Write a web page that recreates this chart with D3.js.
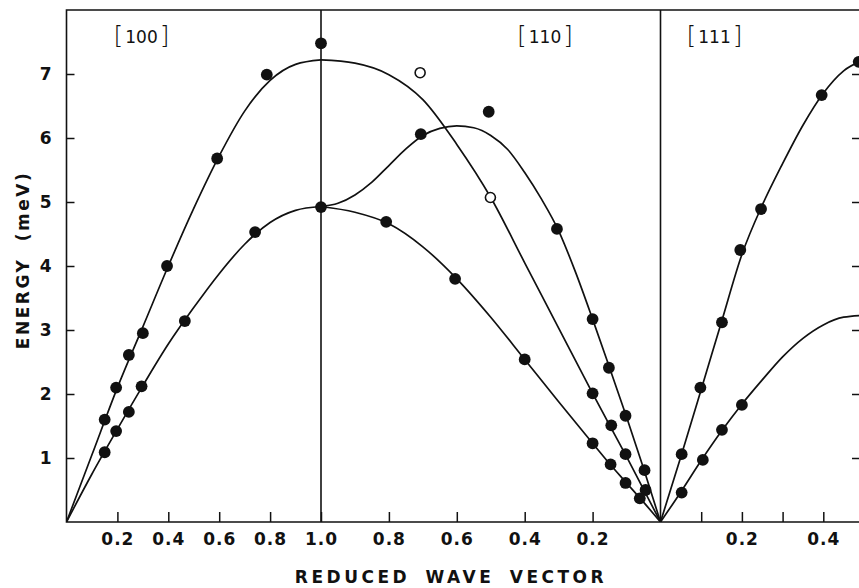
<!DOCTYPE html>
<html>
<head>
  <meta charset="utf-8">
  <title>Phonon dispersion</title>
  <style>
    body { margin: 0; background: #fff; }
    text { font-family: "DejaVu Sans", Arial, sans-serif; fill: #111; }
    .tick line { stroke: #111; stroke-width: 1.5px; }
    .tick text { font-size: 17px; font-weight: bold; letter-spacing: 1px; }
    .curve { fill: none; stroke: #111; stroke-width: 1.7px; }
    .frame { stroke: #111; stroke-width: 1.6px; fill: none; }
  </style>
  <script src="https://cdn.jsdelivr.net/npm/d3@7"></script>
</head>
<body>
<script>
  // ---- data: [reduced wave vector, energy in meV] ----
  const energyTicks = [1, 2, 3, 4, 5, 6, 7];
  const ticks100 = [0.2, 0.4, 0.6, 0.8, 1.0];
  const ticks110 = [0.8, 0.6, 0.4, 0.2];
  const ticks111 = [0.1, 0.2, 0.3, 0.4];
  const labels111 = [0.2, 0.4];
  const sectionNames = ["100", "110", "111"];

  // [100] direction
  const curveUp100 = [[0,0],[0.1,1.05],[0.2,2.1],[0.3,3.05],[0.4,4.0],[0.5,4.9],[0.6,5.72],[0.7,6.42],[0.8,6.9],[0.9,7.15],[1.0,7.22]];
  const curveLow100 = [[0,0],[0.1,0.75],[0.2,1.45],[0.3,2.13],[0.4,2.78],[0.5,3.35],[0.6,3.88],[0.7,4.34],[0.8,4.68],[0.9,4.87],[1.0,4.93]];
  const dotsUp100 = [[0.15,1.6],[0.195,2.1],[0.245,2.61],[0.3,2.95],[0.395,4.0],[0.592,5.68],[0.787,6.99],[1.0,7.48]];
  const dotsLow100 = [[0.15,1.09],[0.195,1.42],[0.245,1.72],[0.295,2.12],[0.465,3.14],[0.741,4.53],[1.0,4.92]];

  // [110] direction
  const curveTop110 = [[1.0,7.22],[0.9,7.17],[0.8,6.99],[0.7,6.6],[0.6,5.9],[0.5,5.07],[0.4,4.05],[0.3,3.03],[0.2,2.01],[0.1,1.02],[0,0]];
  const curveMid110 = [[1.0,4.93],[0.95,4.98],[0.9,5.11],[0.85,5.31],[0.8,5.57],[0.75,5.83],[0.7,6.04],[0.65,6.15],[0.6,6.19],[0.55,6.16],[0.5,6.04],[0.45,5.82],[0.4,5.46],[0.35,5.04],[0.3,4.55],[0.25,3.9],[0.2,3.17],[0.15,2.41],[0.1,1.64],[0.05,0.84],[0,0]];
  const curveLow110 = [[1.0,4.93],[0.9,4.84],[0.8,4.66],[0.7,4.3],[0.6,3.8],[0.5,3.2],[0.4,2.54],[0.3,1.88],[0.2,1.23],[0.15,0.91],[0.1,0.61],[0.05,0.31],[0,0]];
  const dotsFilled110 = [[0.706,6.06],[0.506,6.41],[0.305,4.58],[0.2,3.17],[0.152,2.41],[0.103,1.66],[0.047,0.81],
                         [0.2,2.01],[0.145,1.51],[0.103,1.06],[0.044,0.5],
                         [0.808,4.69],[0.605,3.8],[0.4,2.54],[0.2,1.23],[0.147,0.9],[0.103,0.61],[0.061,0.37]];
  const dotsOpen110 = [[0.708,7.02],[0.501,5.07]];

  // [111] direction
  const curveUp111 = [[0,0],[0.05,1.02],[0.1,2.07],[0.15,3.13],[0.2,4.18],[0.25,4.95],[0.3,5.6],[0.35,6.2],[0.4,6.7],[0.45,7.05],[0.5,7.22]];
  const curveLow111 = [[0,0],[0.05,0.47],[0.1,0.96],[0.15,1.42],[0.2,1.84],[0.25,2.22],[0.3,2.58],[0.35,2.87],[0.4,3.08],[0.45,3.2],[0.5,3.23]];
  const dotsUp111 = [[0.052,1.06],[0.098,2.1],[0.151,3.12],[0.196,4.25],[0.247,4.89],[0.396,6.67],[0.487,7.19]];
  const dotsLow111 = [[0.052,0.46],[0.104,0.97],[0.151,1.44],[0.2,1.83]];

  // ---- layout ----
  const width = 859, height = 588;
  const plotLeft = 66.5, plotRight = 860, plotTop = 10, plotBottom = 522;

  const svg = d3.select("body").append("svg")
      .attr("width", width)
      .attr("height", height);

  const y = d3.scaleLinear().domain([0, 8]).range([plotBottom, plotTop]);
  const x100 = d3.scaleLinear().domain([0, 1]).range([plotLeft, 321]);
  const x110 = d3.scaleLinear().domain([1, 0]).range([321, 660.5]);
  const x111 = d3.scaleLinear().domain([0, 0.5]).range([660.5, 864]);

  svg.append("clipPath").attr("id", "plot-clip")
    .append("rect")
      .attr("x", plotLeft).attr("y", plotTop)
      .attr("width", plotRight - plotLeft).attr("height", plotBottom - plotTop);

  // frame and section dividers
  svg.append("path").attr("class", "frame")
      .attr("d", `M${plotRight},${plotTop}H${plotLeft}V${plotBottom}H${plotRight}`);
  svg.append("line").attr("class", "frame")
      .attr("x1", x100(1)).attr("x2", x100(1)).attr("y1", plotTop).attr("y2", plotBottom);
  svg.append("line").attr("class", "frame")
      .attr("x1", x110(0)).attr("x2", x110(0)).attr("y1", plotTop).attr("y2", plotBottom);

  // axes
  const fmt = d3.format(".1f");
  svg.append("g")
      .attr("transform", `translate(${plotLeft},0)`)
      .call(d3.axisLeft(y).tickValues(energyTicks).tickSize(-8).tickPadding(14).tickFormat(d3.format("d")))
      .call(g => g.select(".domain").remove());
  svg.append("g")
      .attr("transform", `translate(${plotRight},0)`)
      .call(d3.axisRight(y).tickValues(energyTicks).tickSize(-8).tickFormat(""))
      .call(g => g.select(".domain").remove());

  const bottomAxis = (scale, values, labelled) => svg.append("g")
      .attr("transform", `translate(0,${plotBottom})`)
      .call(d3.axisBottom(scale).tickValues(values).tickSize(-10).tickPadding(11)
        .tickFormat(d => (!labelled || labelled.includes(d)) ? fmt(d) : ""))
      .call(g => g.select(".domain").remove());
  bottomAxis(x100, ticks100);
  bottomAxis(x110, ticks110);
  bottomAxis(x111, ticks111, labels111);

  // curves (sorted left to right on screen so the monotone curve works)
  const plot = svg.append("g").attr("clip-path", "url(#plot-clip)");
  const drawCurve = (data, xs) => plot.append("path")
      .attr("class", "curve")
      .attr("d", d3.line()
        .x(d => xs(d[0])).y(d => y(d[1]))
        .curve(d3.curveMonotoneX)(d3.sort(data, d => xs(d[0]))));

  drawCurve(curveUp100, x100);
  drawCurve(curveLow100, x100);
  drawCurve(curveTop110, x110);
  drawCurve(curveMid110, x110);
  drawCurve(curveLow110, x110);
  drawCurve(curveUp111, x111);
  drawCurve(curveLow111, x111);

  // measured points
  const drawDots = (data, xs, open) => plot.append("g")
    .selectAll("circle").data(data).join("circle")
      .attr("cx", d => xs(d[0]))
      .attr("cy", d => y(d[1]))
      .attr("r", open ? 5 : 5.9)
      .attr("fill", open ? "#fff" : "#111")
      .attr("stroke", "#111")
      .attr("stroke-width", open ? 1.6 : 0);

  drawDots(dotsUp100, x100);
  drawDots(dotsLow100, x100);
  drawDots(dotsFilled110, x110);
  drawDots(dotsOpen110, x110, true);
  drawDots(dotsUp111, x111);
  drawDots(dotsLow111, x111);

  // direction labels
  const labelX = [141.5, 545, 714.5];
  sectionNames.forEach((name, i) => {
    const t = svg.append("text")
        .attr("x", labelX[i]).attr("y", 44)
        .attr("text-anchor", "middle");
    t.append("tspan").style("font-size", "25px").style("font-weight", "300").text("[");
    t.append("tspan").style("font-size", "17px").attr("dx", 2).attr("dy", -1).text(name);
    t.append("tspan").style("font-size", "25px").style("font-weight", "300").attr("dx", 2).attr("dy", 1).text("]");
  });

  // axis titles
  svg.append("text")
      .attr("x", 451).attr("y", 583)
      .attr("text-anchor", "middle")
      .style("font-size", "17px").style("font-weight", "bold")
      .style("letter-spacing", "3.5px").style("word-spacing", "6px")
      .text("REDUCED WAVE VECTOR");

  svg.append("text")
      .attr("transform", "translate(29,260) rotate(-90)")
      .attr("text-anchor", "middle")
      .style("font-size", "17px").style("font-weight", "bold")
      .style("letter-spacing", "2.5px").style("word-spacing", "8px")
      .text("ENERGY (meV)");
</script>
</body>
</html>
